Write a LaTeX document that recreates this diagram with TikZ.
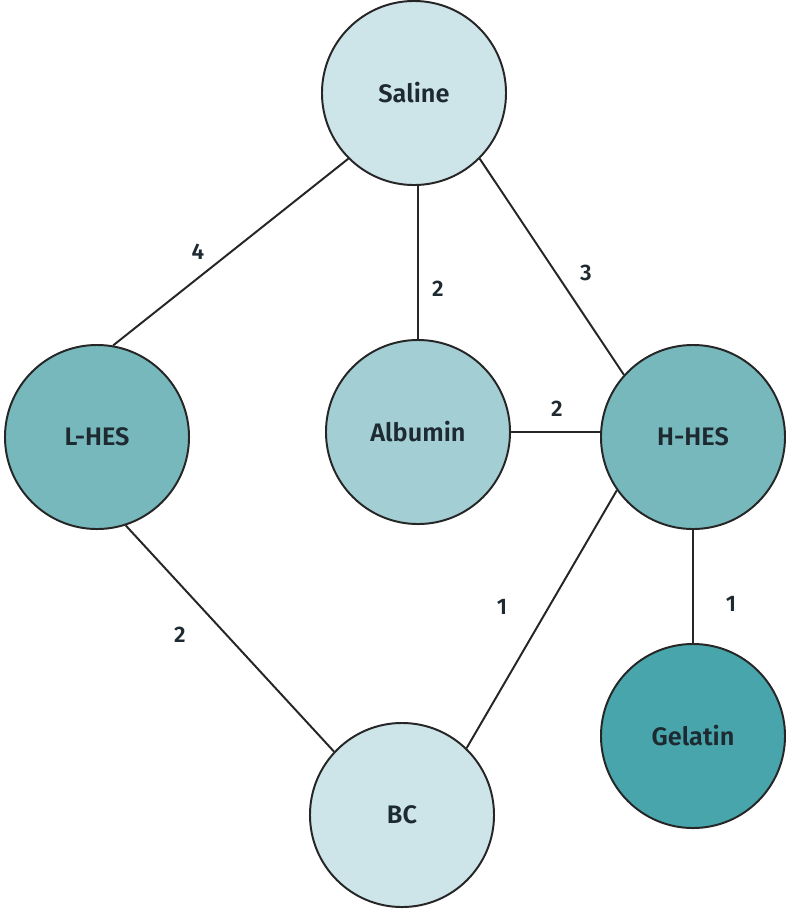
\documentclass[tikz,border=0pt]{standalone}
\usepackage{fontspec}
\setmainfont{Fira Sans}[BoldFont={Fira Sans SemiBold}]
\usetikzlibrary{positioning}
\definecolor{palecyan}{HTML}{CDE4E8}
\definecolor{midcyan}{HTML}{A3CFD4}
\definecolor{hescyan}{HTML}{76B8BB}
\definecolor{deepcyan}{HTML}{48A5AC}
\definecolor{inkgray}{HTML}{1E2A31}

\begin{document}
\begin{tikzpicture}[x=0.025cm, y=-0.025cm,
				roundnode/.style={circle, draw=black!85, line width=1.4pt, minimum size=4.6cm, inner sep=0pt, text=inkgray, font=\bfseries\fontsize{18}{21}\selectfont},
				weight/.style={text=inkgray, font=\bfseries\fontsize{16}{18}\selectfont},
				]
				\useasboundingbox (0,0) rectangle (785,910);

					%Nodes
				\node[roundnode, fill=palecyan]	(saline)	at (414,93)		{Saline};
				\node[roundnode, fill=hescyan]		(lhes)		at (97,437)		{L-HES};
				\node[roundnode, fill=midcyan]		(albumin)	at (418,432)	{Albumin};
				\node[roundnode, fill=hescyan]		(hhes)		at (693,437)	{H-HES};
				\node[roundnode, fill=deepcyan]	(gelatin)	at (693,736)	{Gelatin};
				\node[roundnode, fill=palecyan]	(bc)		at (402,815)	{BC};

				%Weights
				\node[weight]	(w1)	at (198,252)	{4};
				\node[weight]	(w2)	at (438,289)	{2};
				\node[weight]	(w3)	at (586,273)	{3};
				\node[weight]	(w4)	at (557,409)	{2};
				\node[weight]	(w5)	at (180,635)	{2};
				\node[weight]	(w6)	at (502,607)	{1};
				\node[weight]	(w7)	at (731,604)	{1};

				%Lines
				\begin{scope}[draw=black!85, line width=1.4pt]
				\draw	(saline.225) -- (lhes.80);
				\draw	(saline.south -| albumin.north) -- (albumin.north);
				\draw	(saline.315) -- (hhes.138);
				\draw	(albumin.east) -- (albumin.east -| hhes.west);
				\draw	(lhes.288) -- (bc.137);
				\draw	(hhes.215) -- (bc.46);
				\draw	(hhes.south) -- (gelatin.north);
				\end{scope}
			\end{tikzpicture}
\end{document}
